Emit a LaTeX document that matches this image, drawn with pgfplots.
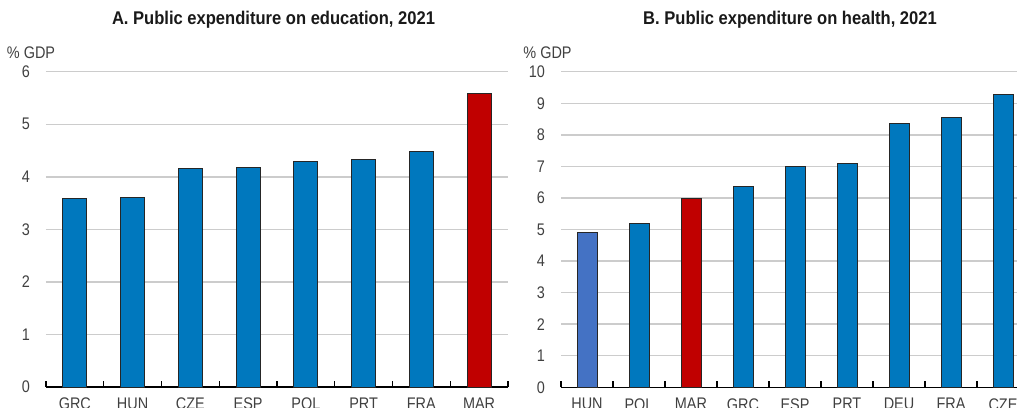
\documentclass[border=0pt]{standalone}
\usepackage{fontspec}
\setmainfont[FakeStretch=0.86]{Liberation Sans}
\newfontfamily\titlefont[FakeStretch=0.9]{Liberation Sans}
\usepackage{pgfplots}
\pgfplotsset{compat=1.18}
\definecolor{oblue}{HTML}{0078BE}
\definecolor{ored}{HTML}{C00000}
\definecolor{lblue}{HTML}{4472C4}
\definecolor{gridc}{HTML}{CCCCCC}
\definecolor{txt}{HTML}{404040}
\pgfplotsset{
 panel/.style={
  scale only axis,
  anchor=south west,
  ymin=0,
  axis x line*=bottom, axis y line*=left,
  x axis line style={black, line width=0.8pt},
  y axis line style={draw=none},
  ytick style={draw=none},
  xtick style={black, line width=0.6pt},
  tick align=inside,
  major tick length=3pt,
  x tick label as interval,
  ymajorgrids,
  grid style={gridc, line width=0.7pt},
  tick label style={font=\fontsize{8.4}{10}\selectfont, text=txt},
  /pgf/number format/assume math mode=true,
  yticklabel style={xshift=-4.5pt},
  xticklabel style={yshift=-2pt},
 },
 bars/.style={ybar, bar shift=0pt, draw=black!85, line width=0.4pt, fill=#1},
}
\begin{document}
\begin{tikzpicture}
\useasboundingbox (0,0) rectangle (508.5pt,-203.5pt);
\clip (0,0) rectangle (508.5pt,-203.5pt);
\begin{axis}[panel, at={(23pt,-193.5pt)}, width=231pt, height=157.65pt,
  xmin=-0.5, xmax=7.5, ymax=6, ytick={0,...,6},
  xtick={-0.5,0.5,...,7.5}, xticklabels={GRC,HUN,CZE,ESP,POL,PRT,FRA,MAR}]
\addplot[bars=oblue, bar width=12pt] coordinates {(0,3.59)(1,3.61)(2,4.16)(3,4.17)(4,4.29)(5,4.33)(6,4.48)};
\addplot[bars=ored, bar width=12pt] coordinates {(7,5.59)};
\end{axis}
\begin{axis}[panel, at={(280.5pt,-193.65pt)}, width=234pt, height=157.8pt,
  xmin=-0.5, xmax=8.5, ymax=10, ytick={0,...,10},
  xtick={-0.5,0.5,...,8.5}, xticklabels={HUN,POL,MAR,GRC,ESP,PRT,DEU,FRA,CZE}]
\addplot[bars=lblue, bar width=10pt] coordinates {(0,4.91)};
\addplot[bars=oblue, bar width=10pt] coordinates {(1,5.18)(3,6.36)(4,7.01)(5,7.08)(6,8.35)(7,8.55)(8,9.27)};
\addplot[bars=ored, bar width=10pt] coordinates {(2,5.99)};
\end{axis}
\node[font=\titlefont\bfseries\fontsize{9.2}{11}\selectfont, text=black!90] at (136.75pt,-10pt) {A. Public expenditure on education, 2021};
\node[font=\titlefont\bfseries\fontsize{9.2}{11}\selectfont, text=black!90] at (395pt,-10pt) {B. Public expenditure on health, 2021};
\node[font=\fontsize{8.4}{10}\selectfont, text=txt] at (15.5pt,-26.5pt) {\% GDP};
\node[font=\fontsize{8.4}{10}\selectfont, text=txt] at (273.75pt,-26.5pt) {\% GDP};
\end{tikzpicture}
\end{document}
